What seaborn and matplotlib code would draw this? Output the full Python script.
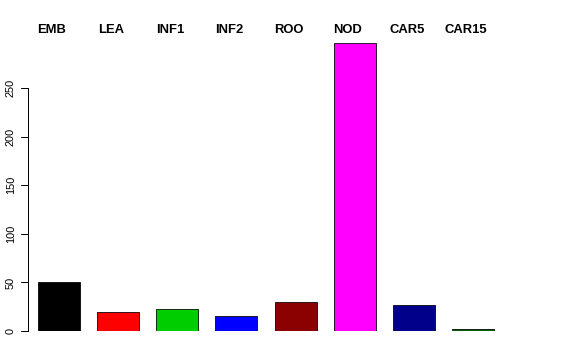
import matplotlib
matplotlib.use("Agg")
import matplotlib.pyplot as plt
import seaborn as sns
import pandas as pd

categories = ["EMB", "LEA", "INF1", "INF2", "ROO", "NOD", "CAR5", "CAR15"]
values = [50, 20, 22.5, 15, 30, 296, 27, 2]
colors = ["#000000", "#FF0000", "#00CD00", "#0000FF", "#8B0000", "#FF00FF", "#00008B", "#006400"]
yticks = [0, 50, 100, 150, 200, 250]

sns.set_style("ticks")
plt.rcParams["font.family"] = ["Liberation Sans", "DejaVu Sans"]
plt.rcParams["text.color"] = "black"
plt.rcParams["axes.edgecolor"] = "black"

df = pd.DataFrame({"cat": categories, "val": values})

fig = plt.figure(figsize=(8, 5), dpi=72)
W, H = 576, 360
left_px, right_px = 28, 508.5
bottom_px, top_px = 331, 39.4
ax = fig.add_axes([left_px / W, 1 - bottom_px / H, (right_px - left_px) / W, (bottom_px - top_px) / H])

sns.barplot(data=df, x="cat", y="val", hue="cat", palette=colors, legend=False,
            width=0.71, edgecolor="black", linewidth=0.8, saturation=1, ax=ax)

ax.set_xlim(-0.525, 7.6)
ax.set_ylim(0, 300)
ax.set_xlabel("")
ax.set_ylabel("")
ax.set_xticks([])
ax.set_yticks(yticks)
ax.set_yticklabels([str(t) for t in yticks], rotation=90, va="center", fontsize=11)
for s in ["top", "right", "bottom"]:
    ax.spines[s].set_visible(False)
ax.spines["left"].set_bounds(0, 250)
ax.spines["left"].set_color("black")
ax.spines["left"].set_linewidth(1.0)

# draw y tick marks explicitly (axes-fraction x, data y)
trans = ax.get_yaxis_transform()
tick_len = 7 / (right_px - left_px)
for t in yticks:
    ax.plot([-tick_len, 0], [t, t], color="black", lw=1.0, transform=trans, clip_on=False)
ax.tick_params(axis="y", length=0, pad=12, labelcolor="black")

for i, c in enumerate(categories):
    ax.text(i - 0.12, 310, c, ha="center", va="center", fontsize=13,
            fontweight="bold", color="black", clip_on=False)

fig.savefig("out.png", dpi=72)
